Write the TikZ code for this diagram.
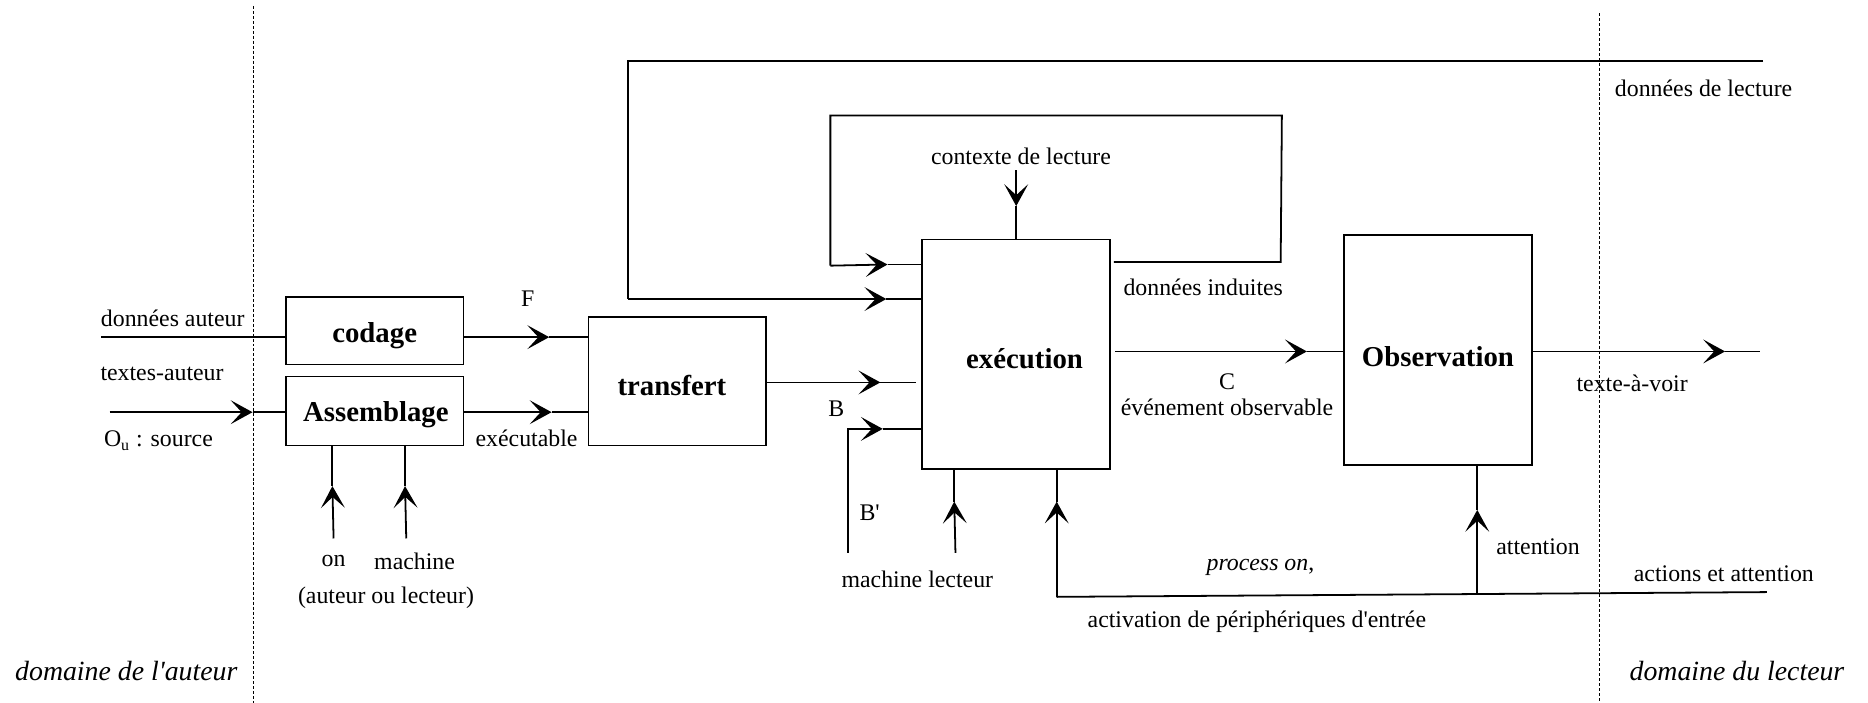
\documentclass[tikz,border=0pt]{standalone}
\usepackage{fontspec}
\setmainfont{Liberation Serif}
\usetikzlibrary{arrows.meta}
\begin{document}
\begin{tikzpicture}[x=0.6pt,y=-0.6pt,
  ln/.style={line width=0.9pt},
  tipped/.style={line width=0.9pt,-{Stealth[length=11pt,width=12pt,inset=5.5pt]}},
  box/.style={draw,line width=0.9pt,inner sep=0pt,font=\fontsize{14.5}{17}\selectfont\bfseries},
  lbl/.style={inner sep=0pt,font=\fontsize{12}{14}\selectfont},
  dom/.style={inner sep=0pt,font=\fontsize{14}{16}\selectfont\itshape},
  sep/.style={line width=0.5pt,dash pattern=on 1.5pt off 1pt}]
\useasboundingbox (0,0) rectangle (1568,590);
% domain separators
\coordinate (s1t) at (213,5); \coordinate (s1b) at (213,590);
\coordinate (s2t) at (1343,11); \coordinate (s2b) at (1343,590);
\draw[sep] (s1t) -- (s1b);
\draw[sep] (s2t) -- (s2b);
% boxes
\node[box,minimum width=89.4pt,minimum height=34.2pt] (cod) at (314.5,277.5) {};
\node[box,draw=none] at (314.5,282) {codage};
\node[box,minimum width=89.4pt,minimum height=34.8pt] (asm) at (314.5,345) {};
\node[box,draw=none] at (315.5,348) {Assemblage};
\node[box,minimum width=89.4pt,minimum height=64.8pt] (tra) at (568.5,320) {};
\node[box,draw=none] at (564,324) {transfert};
\node[box,minimum width=94.8pt,minimum height=115.8pt] (exe) at (853,297.5) {};
\node[box,draw=none] at (860,301) {exécution};
\node[box,minimum width=94.8pt,minimum height=115.8pt] (obs) at (1207,293.5) {};
\node[box,draw=none] at (1207,299) {Observation};
% left inputs
\coordinate (da) at (85,283);
\draw[ln] (da) -- (da -| cod.west);
\coordinate (ta) at (92,346); \coordinate (tat) at (212,346);
\draw[tipped] (ta) -- (tat);
\draw[ln] (tat) -- (tat -| asm.west);
% codage -> transfert
\coordinate (ft) at (461,283);
\draw[tipped] (ft -| cod.east) -- (ft);
\draw[ln] (ft) -- (ft -| tra.west);
% assemblage -> transfert
\coordinate (et) at (463,346);
\draw[tipped] (et -| asm.east) -- (et);
\draw[ln] (et) -- (et -| tra.west);
% on / machine
\coordinate (onb) at (280,452); \coordinate (ont) at (279,408);
\draw[tipped] (onb) -- (ont);
\draw[ln] (ont) -- (ont |- asm.south);
\coordinate (mab) at (341,452); \coordinate (mat) at (340,408);
\draw[tipped] (mab) -- (mat);
\draw[ln] (mat) -- (mat |- asm.south);
% transfert -> execution (B)
\coordinate (bt) at (739,321);
\draw[tipped] (bt -| tra.east) -- (bt);
\draw[ln] (bt) -- (769,321);
% B'
\coordinate (bpb) at (712,464); \coordinate (bpt) at (741,360);
\draw[tipped] (bpb) |- (bpt);
\draw[ln] (bpt) -- (bpt -| exe.west);
% machine lecteur
\coordinate (mlb) at (802,464); \coordinate (mlt) at (801,421);
\draw[tipped] (mlb) -- (mlt);
\draw[ln] (mlt) -- (mlt |- exe.south);
% contexte de lecture
\coordinate (ctt) at (853,143); \coordinate (ctm) at (853,173);
\draw[tipped] (ctt) -- (ctm);
\draw[ln] (ctm) -- (ctm |- exe.north);
% inner loop (donnees induites)
\coordinate (il1) at (935,220); \coordinate (il2) at (1075,220);
\coordinate (il3) at (1076,97); \coordinate (il4) at (697,97);
\coordinate (il5) at (697,223); \coordinate (ilt) at (745,222);
\draw[ln] (il1) -- (il2) -- (il3) -- (il4) -- (il5);
\draw[tipped] (il5) -- (ilt);
\draw[ln] (ilt) -- (ilt -| exe.west);
% outer loop (donnees de lecture)
\coordinate (ol1) at (1480,51); \coordinate (ol2) at (527,51);
\coordinate (ol3) at (527,251); \coordinate (olt) at (744,251);
\draw[ln] (ol1) -- (ol2) -- (ol3);
\draw[tipped] (ol3) -- (olt);
\draw[ln] (olt) -- (olt -| exe.west);
% execution -> observation
\coordinate (ct) at (1097,295);
\draw[tipped] (936,295) -- (ct);
\draw[ln] (ct) -- (ct -| obs.west);
% observation -> out
\coordinate (ot) at (1448,295); \coordinate (oe) at (1477,295);
\draw[tipped] (ot -| obs.east) -- (ot);
\draw[ln] (ot) -- (oe);
% feedback
\coordinate (fb1) at (1483,497); \coordinate (fb2) at (887,501);
\coordinate (fbt) at (887,421);
\draw[ln] (fb1) -- (fb2);
\draw[tipped] (fb2) -- (fbt);
\draw[ln] (fbt) -- (fbt |- exe.south);
% attention
\coordinate (atb) at (1240,499); \coordinate (att) at (1240,428);
\draw[tipped] (atb) -- (att);
\draw[ln] (att) -- (att |- obs.south);
% labels
\node[lbl] (l1) at (145,267) {données auteur};
\node[lbl] (l2) at (136,314) {textes-auteur};
\node[lbl] (l3) at (133,370) {O\textsubscript{u} : source};
\node[lbl] (l4) at (443,251) {F};
\node[lbl] (l5) at (442,368) {exécutable};
\node[lbl] (l6) at (280,471) {on};
\node[lbl] (l7) at (348,471) {machine};
\node[lbl] (l8) at (324,502) {(auteur ou lecteur)};
\node[lbl] (l9) at (702,343) {B};
\node[lbl] (l10) at (730,430) {B\textquotesingle};
\node[lbl] (l11) at (770,486) {machine lecteur};
\node[lbl] (l12) at (857,131) {contexte de lecture};
\node[lbl] (l13) at (1010,241) {données induites};
\node[lbl] (l14) at (1430,74) {données de lecture};
\node[lbl] (l15) at (1030,320) {C};
\node[lbl] (l16) at (1030,342) {événement observable};
\node[lbl] (l17) at (1370,322) {texte-à-voir};
\node[lbl] (l18) at (1291,459) {attention};
\node[lbl] (l19) at (1447,482) {actions et attention};
\node[lbl] (l20) at (1058,476) {\textit{process on},};
\node[lbl] (l21) at (1055,522) {activation de périphériques d\textquotesingle entrée};
\node[dom] (d1) at (106,563) {domaine de l\textquotesingle auteur};
\node[dom] (d2) at (1458,563) {domaine du lecteur};
\end{tikzpicture}
\end{document}
